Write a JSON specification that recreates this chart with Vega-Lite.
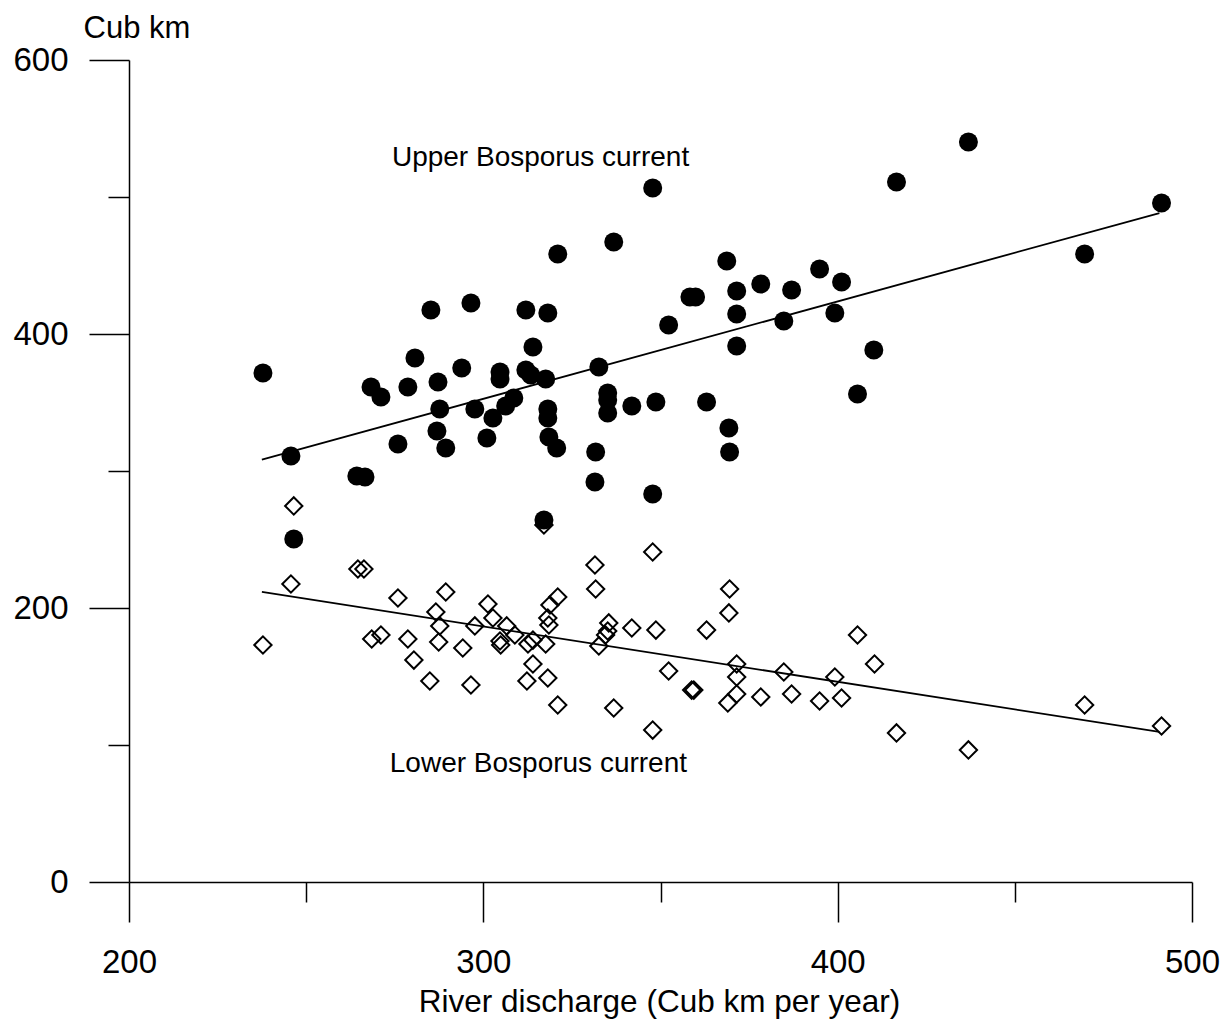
{
  "$schema": "https://vega.github.io/schema/vega-lite/v6.json",
  "autosize": {"type": "none"},
  "padding": {"left": 129, "top": 60, "right": 37, "bottom": 150},
  "width": 1063,
  "height": 822,
  "background": "white",
  "config": {"view": {"stroke": null}, "font": "Liberation Sans"},
  "datasets": {
    "upper": [
      {"q": 237.8, "v": 371.5}, {"q": 245.7, "v": 310.9}, {"q": 246.5, "v": 250.4}, {"q": 264.3, "v": 296.4},
      {"q": 266.6, "v": 295.6}, {"q": 268.3, "v": 361.3}, {"q": 271.1, "v": 354.0}, {"q": 275.9, "v": 319.7},
      {"q": 278.7, "v": 361.3}, {"q": 280.7, "v": 382.5}, {"q": 285.2, "v": 417.5}, {"q": 287.2, "v": 365.0},
      {"q": 287.7, "v": 345.3}, {"q": 286.9, "v": 329.2}, {"q": 289.4, "v": 316.8}, {"q": 293.9, "v": 375.2},
      {"q": 296.5, "v": 422.6}, {"q": 297.6, "v": 345.3}, {"q": 301.0, "v": 324.1}, {"q": 302.7, "v": 338.7},
      {"q": 304.7, "v": 372.3}, {"q": 304.7, "v": 367.2}, {"q": 306.3, "v": 347.4}, {"q": 308.6, "v": 353.3},
      {"q": 312.0, "v": 417.5}, {"q": 312.0, "v": 373.7}, {"q": 313.4, "v": 370.1}, {"q": 317.6, "v": 367.2},
      {"q": 314.0, "v": 390.5}, {"q": 318.2, "v": 415.3}, {"q": 318.2, "v": 345.3}, {"q": 318.2, "v": 338.7},
      {"q": 318.5, "v": 324.8}, {"q": 320.7, "v": 316.8}, {"q": 321.0, "v": 458.4}, {"q": 317.1, "v": 264.2},
      {"q": 331.7, "v": 313.9}, {"q": 331.5, "v": 292.0}, {"q": 332.6, "v": 375.9}, {"q": 335.1, "v": 356.9},
      {"q": 335.1, "v": 351.8}, {"q": 335.1, "v": 342.3}, {"q": 336.8, "v": 467.2}, {"q": 341.9, "v": 347.4},
      {"q": 347.8, "v": 506.6}, {"q": 347.8, "v": 283.2}, {"q": 348.7, "v": 350.4}, {"q": 352.3, "v": 406.6},
      {"q": 358.3, "v": 427.0}, {"q": 359.9, "v": 427.0}, {"q": 363.0, "v": 350.4}, {"q": 368.7, "v": 453.3},
      {"q": 371.5, "v": 431.4}, {"q": 371.5, "v": 414.6}, {"q": 371.5, "v": 391.2}, {"q": 369.3, "v": 331.4},
      {"q": 369.5, "v": 313.9}, {"q": 378.3, "v": 436.5}, {"q": 384.8, "v": 409.5}, {"q": 387.0, "v": 432.1},
      {"q": 394.9, "v": 447.4}, {"q": 399.2, "v": 415.3}, {"q": 401.1, "v": 438.0}, {"q": 405.6, "v": 356.2},
      {"q": 410.2, "v": 388.3}, {"q": 416.6, "v": 510.9}, {"q": 436.9, "v": 540.1}, {"q": 469.7, "v": 458.4},
      {"q": 491.4, "v": 495.6}
    ],
    "lower": [
      {"q": 246.5, "v": 274.5}, {"q": 245.7, "v": 217.5}, {"q": 237.8, "v": 173.0}, {"q": 264.6, "v": 228.5},
      {"q": 266.3, "v": 228.5}, {"q": 275.9, "v": 207.3}, {"q": 289.4, "v": 211.7}, {"q": 286.6, "v": 197.1},
      {"q": 287.7, "v": 186.9}, {"q": 287.4, "v": 175.2}, {"q": 268.5, "v": 177.4}, {"q": 271.1, "v": 180.3},
      {"q": 278.7, "v": 177.4}, {"q": 280.4, "v": 162.0}, {"q": 284.9, "v": 146.7}, {"q": 294.2, "v": 170.8},
      {"q": 296.5, "v": 143.8}, {"q": 317.1, "v": 260.6}, {"q": 347.8, "v": 240.9}, {"q": 331.5, "v": 231.4},
      {"q": 331.7, "v": 213.9}, {"q": 321.0, "v": 208.0}, {"q": 318.8, "v": 202.2}, {"q": 301.3, "v": 202.9},
      {"q": 302.7, "v": 192.7}, {"q": 297.6, "v": 186.9}, {"q": 306.6, "v": 186.9}, {"q": 308.9, "v": 180.3},
      {"q": 318.2, "v": 192.7}, {"q": 318.5, "v": 187.6}, {"q": 304.7, "v": 175.9}, {"q": 304.9, "v": 173.0},
      {"q": 312.6, "v": 173.7}, {"q": 314.0, "v": 176.6}, {"q": 317.6, "v": 173.7}, {"q": 314.0, "v": 159.1},
      {"q": 312.3, "v": 146.7}, {"q": 318.2, "v": 148.9}, {"q": 321.0, "v": 129.2}, {"q": 335.4, "v": 189.1},
      {"q": 335.1, "v": 183.2}, {"q": 334.5, "v": 180.3}, {"q": 332.6, "v": 172.3}, {"q": 341.9, "v": 185.4},
      {"q": 348.7, "v": 183.9}, {"q": 363.0, "v": 183.9}, {"q": 352.3, "v": 154.0}, {"q": 358.8, "v": 140.1},
      {"q": 359.4, "v": 140.1}, {"q": 336.8, "v": 127.0}, {"q": 347.8, "v": 110.9}, {"q": 369.5, "v": 213.9},
      {"q": 369.3, "v": 196.4}, {"q": 405.6, "v": 180.3}, {"q": 410.4, "v": 159.1}, {"q": 371.5, "v": 159.1},
      {"q": 371.5, "v": 149.6}, {"q": 371.5, "v": 137.2}, {"q": 369.0, "v": 130.7}, {"q": 378.3, "v": 135.0},
      {"q": 384.8, "v": 153.3}, {"q": 387.0, "v": 137.2}, {"q": 399.2, "v": 149.6}, {"q": 394.9, "v": 132.1},
      {"q": 401.1, "v": 134.3}, {"q": 416.6, "v": 108.8}, {"q": 436.9, "v": 96.4}, {"q": 469.7, "v": 129.2},
      {"q": 491.4, "v": 113.9}
    ],
    "fits": [
      {"s": "upper", "q": 237.5, "v": 308.3}, {"s": "upper", "q": 490.8, "v": 488.3},
      {"s": "lower", "q": 237.5, "v": 211.7}, {"s": "lower", "q": 490.8, "v": 109.5}
    ],
    "notes": [
      {"q": 274.2, "v": 522.6, "text": "Upper Bosporus current"},
      {"q": 273.6, "v": 80.5, "text": "Lower Bosporus current"}
    ]
  },
  "encoding": {
    "x": {
      "field": "q", "type": "quantitative",
      "scale": {"domain": [200, 500], "nice": false, "zero": false},
      "axis": {
        "orient": "bottom",
        "values": [200, 250, 300, 350, 400, 450, 500],
        "grid": false,
        "domainColor": "black", "domainWidth": 1.5,
        "tickColor": "black", "tickWidth": 1.5,
        "tickSize": {"condition": {"test": "datum.value % 100 === 0", "value": 40}, "value": 20},
        "labelExpr": "datum.value % 100 === 0 ? datum.label : ''",
        "labelFont": "Liberation Sans", "labelFontSize": 33, "labelColor": "black",
        "labelBaseline": "middle", "labelPadding": 40, "labelFlush": false, "labelOverlap": false,
        "title": "River discharge (Cub km per year)",
        "titleFont": "Liberation Sans", "titleFontSize": 31.5, "titleFontWeight": "normal", "titleColor": "black",
        "titleX": 530, "titleY": 129, "titleAlign": "center", "titleBaseline": "alphabetic", "titleAnchor": null
      }
    },
    "y": {
      "field": "v", "type": "quantitative",
      "scale": {"domain": [0, 600], "nice": false},
      "axis": {
        "orient": "left",
        "values": [0, 100, 200, 300, 400, 500, 600],
        "grid": false,
        "domainColor": "black", "domainWidth": 1.5,
        "tickColor": "black", "tickWidth": 1.5,
        "tickSize": {"condition": {"test": "datum.value % 200 === 0", "value": 40}, "value": 21},
        "labelExpr": "datum.value % 200 === 0 ? datum.label : ''",
        "labelFont": "Liberation Sans", "labelFontSize": 33, "labelColor": "black",
        "labelBaseline": "middle", "labelPadding": 21, "labelFlush": false, "labelOverlap": false,
        "title": "Cub km",
        "titleFont": "Liberation Sans", "titleFontSize": 31, "titleFontWeight": "normal", "titleColor": "black",
        "titleAngle": 0, "titleX": -46, "titleY": -23, "titleAlign": "left", "titleBaseline": "alphabetic", "titleAnchor": null
      }
    }
  },
  "layer": [
    {
      "data": {"name": "lower"},
      "mark": {"type": "point", "shape": "diamond", "size": 300, "filled": false, "stroke": "black", "strokeWidth": 2, "opacity": 1}
    },
    {
      "data": {"name": "upper"},
      "mark": {"type": "circle", "size": 361, "color": "black", "opacity": 1}
    },
    {
      "data": {"name": "fits"},
      "mark": {"type": "line", "color": "black", "strokeWidth": 1.8},
      "encoding": {"detail": {"field": "s"}}
    },
    {
      "data": {"name": "notes"},
      "mark": {"type": "text", "align": "left", "baseline": "alphabetic", "font": "Liberation Sans", "fontSize": 28, "color": "black"},
      "encoding": {"text": {"field": "text"}}
    }
  ]
}
